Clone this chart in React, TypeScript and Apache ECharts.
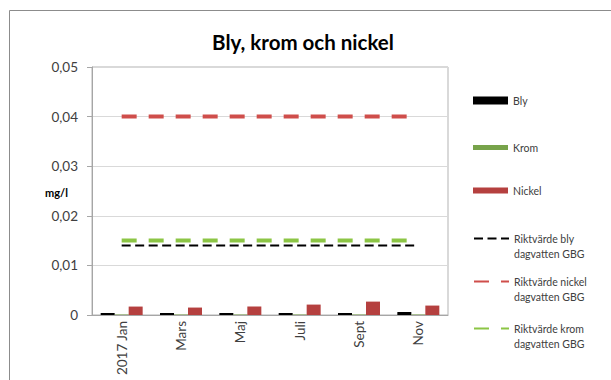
import React, { useEffect, useRef } from "react";
import * as echarts from "echarts";

const months = ["2017 Jan", "Mars", "Maj", "Juli", "Sept", "Nov"];
const bly = [0.0004, 0.0004, 0.0004, 0.0004, 0.0004, 0.0006];
const krom = [0.0001, 0.0001, 0.0001, 0.0001, 0.0001, 0.0001];
const nickel = [0.0017, 0.0015, 0.0017, 0.0021, 0.0027, 0.0019];
const riktBly = [0.014, 0.014, 0.014, 0.014, 0.014, 0.014];
const riktNickel = [0.04, 0.04, 0.04, 0.04, 0.04, 0.04];
const riktKrom = [0.015, 0.015, 0.015, 0.015, 0.015, 0.015];

const FONT = "Lato";
const BLACK = "#000000";
const GREEN = "#77a34a";
const RED = "#b5403f";
const RED_L = "#cf4e4b";
const GREEN_L = "#8cc545";

export default function App() {
  const ref = useRef<HTMLDivElement>(null);
  useEffect(() => {
    if (!ref.current) return;
    const chart = echarts.init(ref.current, undefined, { renderer: "svg" });
    const legText = { fontFamily: FONT, fontSize: 10.5, color: "#404040", lineHeight: 15 };
    const twoLine = (n: string) => "\n" + n.replace(" dagvatten", "\ndagvatten");
    chart.setOption({
      animation: false,
      backgroundColor: "#ffffff",
      textStyle: { fontFamily: FONT },
      title: {
        text: "Bly, krom och nickel",
        left: 298,
        textAlign: "center",
        top: 26,
        textStyle: { fontFamily: FONT, fontSize: 20.5, fontWeight: "bold", color: "#000" },
      },
      graphic: [
        {
          type: "rect",
          shape: { x: 9.5, y: 10.5, width: 700, height: 500 },
          style: { fill: "none", stroke: "#8c8c8c", lineWidth: 1 },
          silent: true,
        },
        {
          type: "text",
          x: 45,
          y: 192,
          style: {
            text: "mg/l",
            font: "bold 11px Lato",
            fill: "#000",
            verticalAlign: "middle",
            align: "left",
          },
          silent: true,
        },
      ],
      legend: [
        { left: 468, top: 88, icon: "rect", itemWidth: 35, itemHeight: 8, data: ["Bly"], textStyle: legText },
        { left: 468, top: 135, icon: "rect", itemWidth: 35, itemHeight: 5, data: ["Krom"], textStyle: legText },
        { left: 468, top: 178, icon: "rect", itemWidth: 35, itemHeight: 6, data: ["Nickel"], textStyle: legText },
        {
          left: 468, top: 211, itemWidth: 35, itemHeight: 14, data: ["Riktvärde bly dagvatten GBG"],
          textStyle: legText, formatter: twoLine, itemStyle: { opacity: 0 },
        },
        {
          left: 468, top: 254, itemWidth: 35, itemHeight: 14, data: ["Riktvärde nickel dagvatten GBG"],
          textStyle: legText, formatter: twoLine, itemStyle: { opacity: 0 },
        },
        {
          left: 468, top: 301, itemWidth: 35, itemHeight: 14, data: ["Riktvärde krom dagvatten GBG"],
          textStyle: legText, formatter: twoLine, itemStyle: { opacity: 0 },
        },
      ],
      grid: {
        left: 92,
        right: 163,
        top: 67,
        bottom: 65,
        show: true,
        borderColor: "#b3b3b3",
        borderWidth: 1,
      },
      xAxis: {
        type: "category",
        data: months,
        boundaryGap: true,
        axisLine: { show: true, lineStyle: { color: "#a6a6a6" } },
        axisTick: { show: false },
        axisLabel: { rotate: 90, margin: 6, fontSize: 13.5, color: "#404040", fontFamily: FONT },
      },
      yAxis: {
        type: "value",
        min: 0,
        max: 0.05,
        interval: 0.01,
        axisLine: { show: true, lineStyle: { color: "#a6a6a6" } },
        axisTick: { show: true, length: 5, lineStyle: { color: "#a6a6a6" } },
        splitLine: { show: true, lineStyle: { color: "#d9d9d9" } },
        axisLabel: {
          margin: 14,
          fontSize: 13.5,
          color: "#404040",
          fontFamily: FONT,
          formatter: (v: number) => (v === 0 ? "0" : v.toFixed(2).replace(".", ",")),
        },
      },
      series: [
        { name: "Bly", type: "bar", data: bly, barWidth: 14, barGap: "0%", itemStyle: { color: BLACK } },
        { name: "Krom", type: "bar", data: krom, barWidth: 14, barGap: "0%", itemStyle: { color: GREEN } },
        { name: "Nickel", type: "bar", data: nickel, barWidth: 14, barGap: "0%", itemStyle: { color: RED } },
        {
          name: "Riktvärde bly dagvatten GBG", type: "line", data: riktBly, symbol: "none",
          itemStyle: { color: BLACK }, lineStyle: { color: BLACK, width: 2, type: [9, 4.5] },
        },
        {
          name: "Riktvärde nickel dagvatten GBG", type: "line", data: riktNickel, symbol: "none",
          itemStyle: { color: RED_L }, lineStyle: { color: RED_L, width: 4, type: [15, 12] },
        },
        {
          name: "Riktvärde krom dagvatten GBG", type: "line", data: riktKrom, symbol: "none",
          itemStyle: { color: GREEN_L }, lineStyle: { color: GREEN_L, width: 4, type: [15, 12] },
        },
      ],
    });
    return () => chart.dispose();
  }, []);
  return (
    <div
      ref={ref}
      style={{ position: "fixed", left: 0, top: 0, width: 611, height: 380, background: "#fff" }}
    />
  );
}
